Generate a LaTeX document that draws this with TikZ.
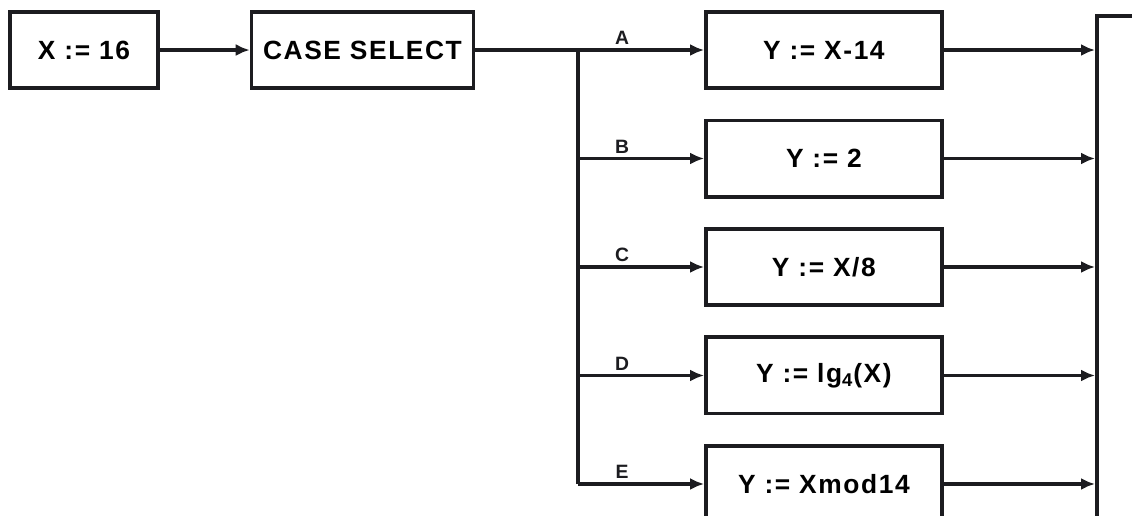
\documentclass[tikz,border=0pt]{standalone}
\usepackage{fontspec}
\setmainfont{Liberation Sans}
\usetikzlibrary{positioning,arrows.meta}
\definecolor{InkBlack}{RGB}{28,28,32}
\tikzset{
  codebox/.style={
    draw=InkBlack,
    line width=2pt,
    minimum height=1.53cm,
    minimum width=4.72cm,
    align=center,
    font=\fontsize{15}{17}\selectfont\bfseries\addfontfeature{LetterSpace=6}
  },
  outbox/.style={
    draw=InkBlack,
    line width=2pt,
    minimum height=12cm,
    minimum width=3cm
  },
  caselabel/.style={font=\fontsize{11}{13}\selectfont\bfseries,inner sep=2pt,text=InkBlack},
  arrow/.style={-{Latex[length=2.8mm,width=2.4mm]},line width=1.8pt,draw=InkBlack},
  wire/.style={line width=1.8pt,draw=InkBlack}
}
\begin{document}
\begin{tikzpicture}[x=0.02cm,y=-0.02cm]
    \clip (0,0) rectangle (1132,515);
    \fill[white] (0,0) rectangle (1132,515);
    \node[codebox,minimum width=2.96cm] (init) at (84,50) {X := 16};
    \node[codebox,minimum width=4.44cm,right=1.8cm of init] (sel) {CASE SELECT};
    \node[codebox,right=4.58cm of sel] (a) {Y := X-14};
    \node[codebox,below=0.57cm of a] (b) {Y := 2};
    \node[codebox,below=0.57cm of b] (c) {Y := X/8};
    \node[codebox,below=0.57cm of c] (d) {Y := lg$_{\mathbf 4}$(X)};
    \node[codebox,below=0.57cm of d] (e) {Y := Xmod14};
    \node[outbox,anchor=north west] (out) at (1095,14) {};
    \coordinate (split) at (578,50);
    \draw[arrow] (init) -- (sel);
    \draw[wire] (sel.east) -- (split);
    \draw[wire] (split) -- (split |- e.west);
    \draw[arrow] (split |- a.west) -- node[caselabel,above,pos=0.35] {A} (a.west);
    \draw[arrow] (split |- b.west) -- node[caselabel,above,pos=0.35] {B} (b.west);
    \draw[arrow] (split |- c.west) -- node[caselabel,above,pos=0.35] {C} (c.west);
    \draw[arrow] (split |- d.west) -- node[caselabel,above,pos=0.35] {D} (d.west);
    \draw[arrow] (split |- e.west) -- node[caselabel,above,pos=0.35] {E} (e.west);
    \draw[arrow] (a.east) -- (a.east -| out.west);
    \draw[arrow] (b.east) -- (b.east -| out.west);
    \draw[arrow] (c.east) -- (c.east -| out.west);
    \draw[arrow] (d.east) -- (d.east -| out.west);
    \draw[arrow] (e.east) -- (e.east -| out.west);
  \end{tikzpicture}
\end{document}
